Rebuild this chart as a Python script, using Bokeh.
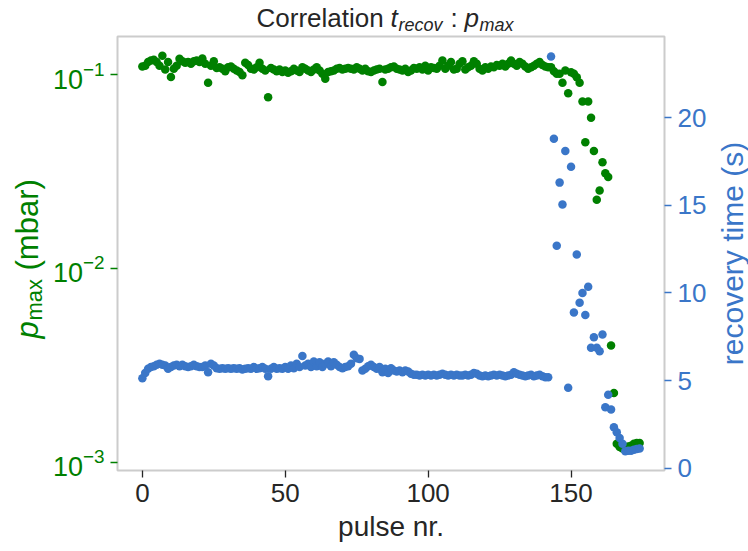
import numpy as np
from bokeh.plotting import figure
from bokeh.layouts import column, row
from bokeh.models import Range1d, LinearAxis, FixedTicker, LinearScale
from bokeh.core.properties import value
from bokeh.embed import file_html
from bokeh.resources import INLINE

pulse = list(range(175))

p_max = [
    0.110, 0.111, 0.116, 0.118, 0.119, 0.116, 0.111, 0.125, 0.106, 0.116,
    0.097, 0.107, 0.111, 0.1205, 0.117, 0.115, 0.116, 0.1135, 0.117, 0.118,
    0.116, 0.121, 0.1135, 0.0906, 0.111, 0.117, 0.108, 0.109, 0.107, 0.104,
    0.109, 0.110, 0.107, 0.105, 0.103, 0.099, 0.115, 0.112, 0.107, 0.106,
    0.109, 0.115, 0.107, 0.105, 0.0764, 0.108, 0.106, 0.104, 0.106, 0.103,
    0.105, 0.102, 0.104, 0.107, 0.105, 0.103, 0.109, 0.107, 0.105, 0.103,
    0.106, 0.109, 0.105, 0.101, 0.095, 0.103, 0.104, 0.105, 0.107, 0.108,
    0.106, 0.107, 0.108, 0.107, 0.106, 0.109, 0.107, 0.105, 0.107, 0.104,
    0.103, 0.105, 0.106, 0.107, 0.0915, 0.106, 0.107, 0.109, 0.110, 0.107,
    0.106, 0.105, 0.107, 0.103, 0.105, 0.108, 0.107, 0.109, 0.106, 0.111,
    0.105, 0.109, 0.108, 0.107, 0.111, 0.118, 0.107, 0.111, 0.116, 0.106,
    0.107, 0.1135, 0.117, 0.106, 0.109, 0.111, 0.117, 0.1135, 0.107, 0.105,
    0.109, 0.107, 0.110, 0.109, 0.112, 0.111, 0.1135, 0.110, 0.1135, 0.118,
    0.1135, 0.111, 0.116, 0.1135, 0.110, 0.107, 0.109, 0.111, 0.1135, 0.116,
    0.112, 0.110, 0.109, 0.109, 0.104, 0.1008, 0.1008, 0.0906, 0.105, 0.0801,
    0.1027, 0.101, 0.0969, 0.0906, 0.0726, 0.0448, 0.0726, 0.0598, 0.0403, 0.0226,
    0.0252, 0.0353, 0.0310, 0.0296, 0.00401, 0.00228, 0.00125, 0.00120, 0.00118, 0.00120,
    0.00121, 0.00122, 0.00125, 0.00126, 0.00126,
]

t_recov = [
    5.14, 5.44, 5.67, 5.77, 5.82, 5.90, 5.96, 5.90, 5.86, 5.67,
    5.77, 5.86, 5.90, 5.82, 5.90, 5.82, 5.77, 5.82, 5.90, 5.82,
    5.77, 5.77, 5.86, 5.48, 5.96, 5.86, 5.71, 5.67, 5.71, 5.67,
    5.71, 5.67, 5.71, 5.67, 5.71, 5.63, 5.67, 5.71, 5.67, 5.77,
    5.67, 5.71, 5.77, 5.67, 5.25, 5.67, 5.77, 5.67, 5.71, 5.67,
    5.77, 5.67, 5.86, 5.71, 5.96, 5.77, 6.40, 5.86, 5.96, 5.77,
    6.09, 5.82, 6.05, 5.77, 5.96, 6.09, 5.82, 6.05, 5.90, 5.77,
    5.71, 5.77, 5.82, 5.96, 6.47, 6.28, 6.24, 5.58, 5.67, 5.82,
    5.90, 5.77, 5.67, 5.77, 5.48, 5.67, 5.44, 5.71, 5.58, 5.52,
    5.58, 5.48, 5.58, 5.52, 5.39, 5.33, 5.33, 5.29, 5.33, 5.29,
    5.33, 5.29, 5.33, 5.29, 5.33, 5.39, 5.33, 5.29, 5.33, 5.29,
    5.33, 5.29, 5.29, 5.33, 5.29, 5.33, 5.44, 5.39, 5.29, 5.25,
    5.29, 5.25, 5.29, 5.33, 5.29, 5.33, 5.29, 5.25, 5.29, 5.33,
    5.48, 5.39, 5.33, 5.29, 5.25, 5.29, 5.33, 5.25, 5.29, 5.33,
    5.25, 5.19, 5.19, 23.5, 18.8, 12.7, 16.3, 15.05, 18.1, 4.59,
    17.2, 8.89, 12.2, 9.44, 10.0, 8.75, 10.35, 6.87, 7.48, 6.87,
    6.68, 7.63, 3.48, 4.19, 3.35, 2.34, 2.05, 1.73, 1.39, 0.97,
    1.00, 1.00, 1.05, 1.10, 1.12,
]

x_ticks = [0, 50, 100, 150]
left_ticks = [1e-3, 1e-2, 1e-1]
right_ticks = [0, 5, 10, 15, 20]

GREEN = "#008000"
BLUE = "#3a76c8"
DARK = "#262626"
FONT = "Liberation Sans"

W, H = 748, 551
TITLE_H = 35
LAB_W = 48          # left label strip
RLAB_W = 38         # right label strip
MAIN_W = W - LAB_W - RLAB_W
MAIN_H = H - TITLE_H
FRAME_LEFT, FRAME_RIGHT = 117, 664
FRAME_TOP, FRAME_BOTTOM = 36, 470


def blank(width, height, yr):
    f = figure(width=width, height=height, output_backend="svg", toolbar_location=None,
               x_range=Range1d(0, width), y_range=yr, min_border=0)
    f.axis.visible = False
    f.grid.visible = False
    f.outline_line_color = None
    f.title.visible = False
    return f


def txt(f, x, y, s, size, color, style="normal", angle=0.0, align="left"):
    f.text(x=[x], y=[y], text=[s], text_font=value(FONT), text_font_size=size,
           text_font_style=style, text_color=color, text_baseline="middle",
           text_align=align, angle=angle)


A = np.pi / 2

# ---- title strip: "Correlation t_recov : p_max" (data y == page y)
tf = blank(W, TITLE_H, Range1d(TITLE_H, 0))
ty, sy = 17, 24
txt(tf, 256, ty, "Correlation", "26px", DARK)
txt(tf, 390, ty, "t", "26px", DARK, "italic")
txt(tf, 398, sy, "recov", "18px", DARK, "italic")
txt(tf, 450, ty, ":", "26px", DARK)
txt(tf, 464, ty, "p", "26px", DARK, "italic")
txt(tf, 479, sy, "max", "18px", DARK, "italic")

# ---- left label strip: "p_max (mbar)" rotated (frame aligned with the main frame)
lf = blank(LAB_W, MAIN_H, Range1d(FRAME_BOTTOM, FRAME_TOP))
txt(lf, 27, 338, "p", "31px", GREEN, "italic", A)
txt(lf, 34, 320, "max", "22px", GREEN, "normal", A)
txt(lf, 27, 270, "(mbar)", "31px", GREEN, "normal", A)

# ---- right label strip: "recovery time (s)" rotated
rf = blank(RLAB_W, MAIN_H, Range1d(FRAME_BOTTOM, FRAME_TOP))
txt(rf, 22, 253, "recovery time (s)", "30px", BLUE, "normal", A, "center")

# ---- main plot
p = figure(width=MAIN_W, height=MAIN_H, output_backend="svg", toolbar_location=None,
           y_axis_type="log",
           x_range=Range1d(-8.7, 182.7), y_range=Range1d(9.09e-4, 0.157),
           min_border_left=FRAME_LEFT - LAB_W,
           min_border_right=(W - RLAB_W) - FRAME_RIGHT,
           min_border_top=FRAME_TOP - TITLE_H, min_border_bottom=H - FRAME_BOTTOM)
p.title.visible = False
p.grid.visible = False
p.outline_line_color = "#cccccc"
p.outline_line_width = 2

p.scatter(pulse, p_max, size=8.5, fill_color=GREEN, line_color=None)

p.extra_y_ranges = {"t": Range1d(-0.131, 24.64)}
p.extra_y_scales = {"t": LinearScale()}
p.scatter(pulse, t_recov, size=8.5, fill_color=BLUE, line_color=None, y_range_name="t")

xa = p.xaxis[0]
xa.ticker = FixedTicker(ticks=x_ticks)
xa.axis_label = "pulse nr."
xa.axis_label_text_font = FONT
xa.axis_label_text_font_size = "28px"
xa.axis_label_text_font_style = "normal"
xa.axis_label_text_color = DARK
xa.axis_label_standoff = 6
xa.major_label_text_font = FONT
xa.major_label_text_font_size = "26px"
xa.major_label_text_color = DARK
xa.major_label_standoff = 6
xa.axis_line_color = None
xa.major_tick_line_color = DARK
xa.major_tick_line_width = 1.3
xa.major_tick_out = 7
xa.major_tick_in = 0
xa.minor_tick_line_color = None

ya = p.yaxis[0]
ya.ticker = FixedTicker(ticks=left_ticks)
ya.major_label_text_font = FONT
ya.major_label_text_font_size = "27px"
ya.major_label_text_color = GREEN
ya.major_label_standoff = 6
ya.axis_line_color = None
ya.major_tick_line_color = GREEN
ya.major_tick_line_width = 1.3
ya.major_tick_out = 7
ya.major_tick_in = 0
ya.minor_tick_line_color = None

ra = LinearAxis(y_range_name="t", ticker=FixedTicker(ticks=right_ticks))
ra.major_label_text_font = FONT
ra.major_label_text_font_size = "26px"
ra.major_label_text_color = BLUE
ra.major_label_standoff = 6
ra.axis_line_color = None
ra.major_tick_line_color = BLUE
ra.major_tick_line_width = 1.3
ra.major_tick_out = 7
ra.major_tick_in = 0
ra.minor_tick_line_color = None
p.add_layout(ra, "right")

layout = column(tf, row(lf, p, rf))
open("out.html", "w").write(file_html(layout, INLINE))
